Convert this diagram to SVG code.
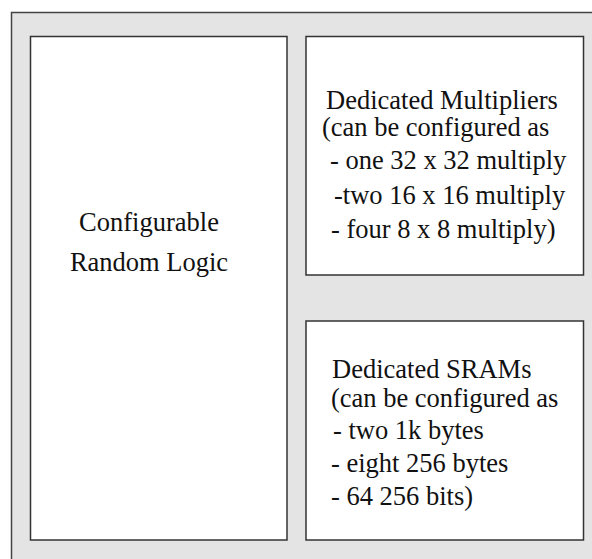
<svg xmlns="http://www.w3.org/2000/svg" width="592" height="559" viewBox="0 0 592 559">
<style>
.frame{fill:#e4e4e4;stroke:#444;stroke-width:1.5}
.box{fill:#fff;stroke:#333;stroke-width:1.5}
.t{font-size:26.5px;fill:#111}
</style>
<rect width="592" height="559" fill="#fff"/>
<g id="frame"><path class="frame" d="M11.5 600 V12.5 H600 V600 Z"/></g>
<g id="logic" font-family="Liberation Serif, Times New Roman, Times, serif">
<rect class="box" x="30.5" y="36.5" width="256.5" height="503.5"/>
<text class="t" x="149" y="231" text-anchor="middle">Configurable</text>
<text class="t" x="149" y="271" text-anchor="middle">Random Logic</text>
</g>
<g id="multipliers" font-family="Liberation Serif, Times New Roman, Times, serif">
<rect class="box" x="306" y="36.5" width="277.5" height="238.5"/>
<text class="t" x="326" y="109">Dedicated Multipliers</text>
<text class="t" x="322" y="136">(can be configured as</text>
<text class="t" x="330" y="169">- one 32 x 32 multiply</text>
<text class="t" x="334" y="204">-two 16 x 16 multiply</text>
<text class="t" x="331" y="238">- four 8 x 8 multiply)</text>
</g>
<g id="srams" font-family="Liberation Serif, Times New Roman, Times, serif">
<rect class="box" x="306" y="321" width="277.5" height="219"/>
<text class="t" x="332" y="378">Dedicated SRAMs</text>
<text class="t" x="331" y="407">(can be configured as</text>
<text class="t" x="333" y="439">- two 1k bytes</text>
<text class="t" x="331" y="472">- eight 256 bytes</text>
<text class="t" x="331" y="505">- 64 256 bits)</text>
</g>
<g id="connectors"/>
</svg>
